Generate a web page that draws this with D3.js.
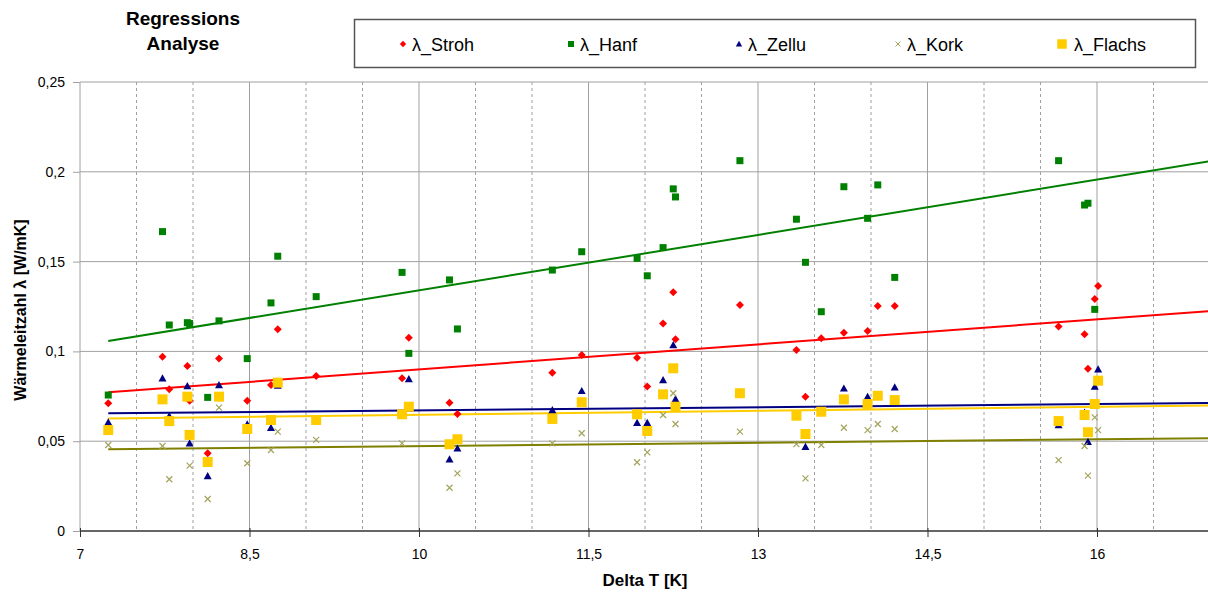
<!DOCTYPE html>
<html><head><meta charset="utf-8">
<script src="https://cdn.jsdelivr.net/npm/d3@7"></script>
<style>
html,body{margin:0;padding:0;background:#fff;}
svg text{font-family:"Liberation Sans",Arial,sans-serif;}
</style></head>
<body>
<svg id="chart" width="1208" height="592"></svg>
<script>
// ---------- DATA ----------
const deltaT = [7.25, 7.73, 7.79, 7.95, 7.97, 8.13, 8.23, 8.48, 8.69, 8.75, 9.09, 9.85, 9.91, 10.27, 10.34, 11.18, 11.44, 11.93, 12.02, 12.16, 12.25, 12.27, 12.84, 13.34, 13.42, 13.56, 13.76, 13.97, 14.06, 14.21, 15.66, 15.89, 15.92, 15.98, 16.01];
const stroh  = [0.0711, 0.0970, 0.0789, 0.0919, 0.0725, 0.0433, 0.0960, 0.0725, 0.0813, 0.1123, 0.0863, 0.0850, 0.1076, 0.0714, 0.0651, 0.0881, 0.0980, 0.0965, 0.0804, 0.1156, 0.1329, 0.1067, 0.1258, 0.1008, 0.0748, 0.1073, 0.1104, 0.1114, 0.1253, 0.1253, 0.1138, 0.1095, 0.0904, 0.1292, 0.1364];
const hanf   = [0.0757, 0.1667, 0.1147, 0.1160, 0.1155, 0.0744, 0.1170, 0.0960, 0.1270, 0.1530, 0.1305, 0.1440, 0.0989, 0.1398, 0.1125, 0.1453, 0.1555, 0.1518, 0.1421, 0.1578, 0.1905, 0.1860, 0.2062, 0.1736, 0.1496, 0.1221, 0.1917, 0.1741, 0.1927, 0.1412, 0.2062, 0.1815, 0.1825, 0.1234, null];
const zellu  = [0.0605, 0.0850, 0.0640, 0.0807, 0.0488, 0.0306, 0.0813, 0.0594, 0.0575, 0.0810, null, null, 0.0846, 0.0399, 0.0460, 0.0674, 0.0780, 0.0603, 0.0603, 0.0841, 0.1036, 0.0735, null, null, 0.0469, null, 0.0794, 0.0748, null, 0.0800, 0.0590, 0.0660, 0.0497, 0.0804, 0.0900];
const kork   = [0.0479, 0.0473, 0.0288, null, 0.0364, 0.0178, 0.0687, 0.0377, 0.0451, 0.0553, 0.0507, 0.0488, null, 0.0241, 0.0321, 0.0488, 0.0544, 0.0383, 0.0438, 0.0646, 0.0767, 0.0596, 0.0553, 0.0484, 0.0293, 0.0479, 0.0575, 0.0562, 0.0596, 0.0568, 0.0395, 0.0473, 0.0308, 0.0633, 0.0562];
const flachs = [0.0562, 0.0733, 0.0612, 0.0748, 0.0535, 0.0384, 0.0748, 0.0568, 0.0618, 0.0826, 0.0618, 0.0650, 0.0692, 0.0483, 0.0511, 0.0624, 0.0717, 0.0650, 0.0557, 0.0761, 0.0906, 0.0692, 0.0767, 0.0642, 0.0540, 0.0664, 0.0733, 0.0707, 0.0753, 0.0729, 0.0612, 0.0646, 0.0550, 0.0707, 0.0837];

// linear trend lines (value at start x, value at end x)
const trendX      = [7.25, 17.0];
const trendStroh  = [0.0772, 0.1225];
const trendHanf   = [0.1058, 0.2059];
const trendZellu  = [0.0655, 0.0713];
const trendKork   = [0.0455, 0.0517];
const trendFlachs = [0.0627, 0.0699];

const seriesNames = ["λ_Stroh", "λ_Hanf", "λ_Zellu", "λ_Kork", "λ_Flachs"];
const xTicks = [7, 8.5, 10, 11.5, 13, 14.5, 16];
const xMinorTicks = [7.5, 8, 9, 9.5, 10.5, 11, 12, 12.5, 13.5, 14, 15, 15.5, 16.5];
const yTicks = [0, 0.05, 0.1, 0.15, 0.2, 0.25];
const titleLines = ["Regressions", "Analyse"];
const xLabel = "Delta T [K]";
const yLabel = "Wärmeleitzahl λ [W/mK]";

// ---------- LAYOUT ----------
const svg = d3.select("#chart");
const L = 80, R = 1210, T = 82, B = 531;
const x = d3.scaleLinear().domain([7, 17]).range([L, R]);
const y = d3.scaleLinear().domain([0, 0.25]).range([B, T]);
const fmt = d => String(d).replace(".", ",");

const diamond = { draw(ctx, size){ const r = Math.sqrt(size)/2; ctx.moveTo(0,-r); ctx.lineTo(r,0); ctx.lineTo(0,r); ctx.lineTo(-r,0); ctx.closePath(); } };
const tri = { draw(ctx, size){ const r = Math.sqrt(size)/2; ctx.moveTo(0,-r); ctx.lineTo(r,r*0.8); ctx.lineTo(-r,r*0.8); ctx.closePath(); } };
const cross = { draw(ctx, size){ const r = Math.sqrt(size)/2; ctx.moveTo(-r,-r); ctx.lineTo(r,r); ctx.moveTo(r,-r); ctx.lineTo(-r,r); } };

const series = [
  {name: seriesNames[0], vals: stroh,  trend: trendStroh,  color:"#FF0000", line:"#FF0000", sym: diamond,        size: 64,  fill:true},
  {name: seriesNames[1], vals: hanf,   trend: trendHanf,   color:"#008000", line:"#008000", sym: d3.symbolSquare, size: 49, fill:true},
  {name: seriesNames[2], vals: zellu,  trend: trendZellu,  color:"#000080", line:"#000080", sym: tri,            size: 64,  fill:true},
  {name: seriesNames[3], vals: kork,   trend: trendKork,   color:"#A3A35C", line:"#808000", sym: cross,          size: 36,  fill:false},
  {name: seriesNames[4], vals: flachs, trend: trendFlachs, color:"#FFCC00", line:"#FFCC00", sym: d3.symbolSquare, size: 100, fill:true}
];

// gridlines
const g = svg.append("g");
g.selectAll("line.hg").data(yTicks.filter(d => d > 0)).join("line")
  .attr("x1", L).attr("x2", 1208).attr("y1", d => y(d)).attr("y2", d => y(d))
  .attr("stroke", "#A0A0A0").attr("stroke-width", 1);
g.selectAll("line.vmaj").data(xTicks.filter(d => d > 7)).join("line")
  .attr("x1", d => x(d)).attr("x2", d => x(d)).attr("y1", T).attr("y2", B)
  .attr("stroke", "#A0A0A0").attr("stroke-width", 1);
g.selectAll("line.vmin").data(xMinorTicks).join("line")
  .attr("x1", d => x(d)).attr("x2", d => x(d)).attr("y1", T).attr("y2", B)
  .attr("stroke", "#A0A0A0").attr("stroke-width", 1).attr("stroke-dasharray", "3,3");

// axes
const yAxis = svg.append("g").attr("transform", `translate(${L},0)`)
  .call(d3.axisLeft(y).tickValues(yTicks).tickFormat(fmt).tickSize(7).tickPadding(8));
yAxis.select(".domain").attr("stroke", "#A0A0A0").attr("d", `M0,${T}V${B}`);
yAxis.selectAll(".tick line").attr("stroke", "#A0A0A0");
yAxis.selectAll(".tick text").attr("font-size", 14).attr("fill", "#000");

const xAxis = svg.append("g").attr("transform", `translate(0,${B})`)
  .call(d3.axisBottom(x).tickValues(xTicks).tickFormat(fmt).tickSize(6).tickPadding(12));
xAxis.select(".domain").attr("stroke", "#333").attr("stroke-width", 1.5).attr("d", `M${L},0H1208`);
xAxis.selectAll(".tick line").attr("stroke", "#333").attr("y1", -3);
xAxis.selectAll(".tick text").attr("font-size", 14).attr("fill", "#000");

// trend lines
const lineGen = d3.line().x(d => x(d[0])).y(d => y(d[1]));
series.forEach(s => {
  svg.append("path").datum([[trendX[0], s.trend[0]], [trendX[1], s.trend[1]]])
    .attr("d", lineGen).attr("fill", "none").attr("stroke", s.line).attr("stroke-width", 2);
});

// markers
series.forEach(s => {
  const pts = deltaT.map((t, i) => [t, s.vals[i]]).filter(p => p[1] != null);
  svg.append("g").selectAll("path").data(pts).join("path")
    .attr("transform", d => `translate(${x(d[0])},${y(d[1])})`)
    .attr("d", d3.symbol().type(s.sym).size(s.size))
    .attr("fill", s.fill ? s.color : "none")
    .attr("stroke", s.fill ? "none" : s.color)
    .attr("stroke-width", s.fill ? 0 : 1.2);
});

// title
svg.append("g").selectAll("text").data(titleLines).join("text")
  .attr("x", 183).attr("y", (d, i) => 25 + i * 25).attr("text-anchor", "middle")
  .attr("font-size", 19).attr("font-weight", "bold").text(d => d);

// legend
svg.append("rect").attr("x", 354.5).attr("y", 19.5).attr("width", 841).attr("height", 48)
  .attr("fill", "#fff").attr("stroke", "#555").attr("stroke-width", 1.5);
const legX = [403, 571, 739, 898, 1062];
const legSize = [40, 36, 40, 25, 90];
series.forEach((s, i) => {
  svg.append("path").attr("transform", `translate(${legX[i]},44)`)
    .attr("d", d3.symbol().type(s.sym).size(legSize[i]))
    .attr("fill", s.fill ? s.color : "none").attr("stroke", s.fill ? "none" : s.color).attr("stroke-width", 1);
  svg.append("text").attr("x", legX[i] + (i === 4 ? 12 : 9)).attr("y", 50.5)
    .attr("font-size", 18).text(s.name);
});

// axis labels
svg.append("text").attr("x", 645).attr("y", 586).attr("text-anchor", "middle")
  .attr("font-size", 17).attr("font-weight", "bold").text(xLabel);
svg.append("text").attr("transform", "translate(26,310) rotate(-90)").attr("text-anchor", "middle")
  .attr("font-size", 16).attr("font-weight", "bold").text(yLabel);
</script>
</body></html>
